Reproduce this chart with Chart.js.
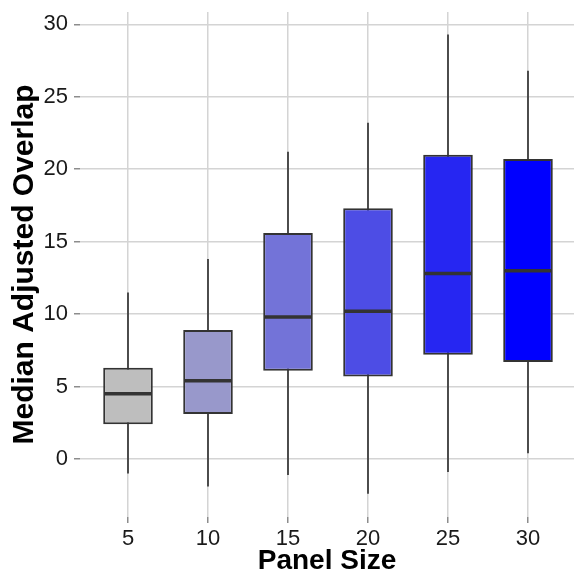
<!DOCTYPE html>
<html lang="en">
<head>
    <meta charset="UTF-8">
    <title>Median Adjusted Overlap by Panel Size</title>
    <script src="https://cdn.jsdelivr.net/npm/chart.js"></script>
    <style>
        html, body { margin: 0; padding: 0; background: #fff; }
        #wrap { width: 574px; height: 575px; }
    </style>
</head>
<body>
    <div id="wrap"><canvas id="boxChart"></canvas></div>

    <script>
        // Panel sizes along the x axis
        const panelSizes = ['5', '10', '15', '20', '25', '30'];
        // Box plot stats for each panel size
        const whiskerLow = [-1.0, -1.9, -1.1, -2.4, -0.9, 0.4];
        const q1 = [2.4, 3.1, 6.1, 5.7, 7.2, 6.7];
        const median = [4.5, 5.4, 9.8, 10.2, 12.8, 13.0];
        const q3 = [6.3, 8.9, 15.6, 17.3, 21.0, 20.7];
        const whiskerHigh = [11.5, 13.8, 21.2, 23.2, 29.3, 26.8];
        // y axis tick labels
        const yTicks = [0, 5, 10, 15, 20, 25, 30];

        const boxColors = ['#bebebe', '#9898cb', '#7373d8', '#4d4de5', '#2626f2', '#0000ff'];
        const fontFamily = '"Liberation Sans", Arial, Helvetica, sans-serif';
        const gridColor = '#d4d4d4';
        const tickColor = '#8c8c8c';

        // whiskers go behind the boxes, medians on top
        const boxParts = {
            id: 'boxParts',
            beforeDatasetsDraw(chart) {
                const { ctx, scales: { y } } = chart;
                const bars = chart.getDatasetMeta(0).data;
                ctx.save();
                ctx.strokeStyle = '#333333';
                ctx.lineWidth = 1.7;
                bars.forEach((bar, i) => {
                    const { x } = bar.getProps(['x'], true);
                    ctx.beginPath();
                    ctx.moveTo(x, y.getPixelForValue(whiskerLow[i]));
                    ctx.lineTo(x, y.getPixelForValue(whiskerHigh[i]));
                    ctx.stroke();
                });
                ctx.restore();
            },
            afterDatasetsDraw(chart) {
                const { ctx, scales: { y } } = chart;
                const bars = chart.getDatasetMeta(0).data;
                ctx.save();
                ctx.strokeStyle = '#333333';
                ctx.lineWidth = 3.5;
                bars.forEach((bar, i) => {
                    const { x, width } = bar.getProps(['x', 'width'], true);
                    const py = y.getPixelForValue(median[i]);
                    ctx.beginPath();
                    ctx.moveTo(x - width / 2 + 1, py);
                    ctx.lineTo(x + width / 2 - 1, py);
                    ctx.stroke();
                });
                ctx.restore();
            }
        };

        const ctx = document.getElementById('boxChart').getContext('2d');
        const boxChart = new Chart(ctx, {
            type: 'bar',
            data: {
                datasets: [{
                    data: panelSizes.map((s, i) => ({ x: i + 1, y: [q1[i], q3[i]] })),
                    backgroundColor: boxColors,
                    borderColor: '#333333',
                    borderWidth: 2,
                    borderSkipped: false,
                    categoryPercentage: 1,
                    barPercentage: 0.62
                }]
            },
            options: {
                responsive: true,
                maintainAspectRatio: false,
                animation: false,
                layout: { padding: { top: 12, right: 0, bottom: 0, left: 0 } },
                plugins: {
                    legend: { display: false },
                    tooltip: { enabled: false }
                },
                scales: {
                    x: {
                        type: 'linear',
                        bounds: 'data',
                        offset: false,
                        min: 0.4,
                        max: 6.575,
                        afterBuildTicks: (scale) => {
                            scale.ticks = panelSizes.map((s, i) => ({ value: i + 1 }));
                        },
                        afterFit: (scale) => { scale.height = 58; },
                        ticks: {
                            callback: (value, index) => panelSizes[index],
                            font: { family: fontFamily, size: 22 },
                            color: '#1a1a1a',
                            padding: 3,
                            maxRotation: 0,
                            autoSkip: false
                        },
                        grid: { offset: false, color: gridColor, lineWidth: 1.5, tickLength: 6, tickColor: tickColor, tickWidth: 1.5 },
                        border: { display: false },
                        title: {
                            display: true,
                            text: 'Panel Size',
                            font: { family: fontFamily, size: 28, weight: 'bold', lineHeight: 1.0 },
                            color: '#000',
                            padding: { top: 0, bottom: 0 }
                        }
                    },
                    y: {
                        type: 'linear',
                        bounds: 'data',
                        min: -4.0,
                        max: 30.85,
                        afterBuildTicks: (scale) => {
                            scale.ticks = yTicks.map(v => ({ value: v }));
                        },
                        afterFit: (scale) => {
                            scale.width = 80;
                            scale.paddingTop = 0;
                            scale.paddingBottom = 0;
                        },
                        ticks: {
                            font: { family: fontFamily, size: 22 },
                            color: '#1a1a1a',
                            padding: 6
                        },
                        grid: { color: gridColor, lineWidth: 1.5, tickLength: 6, tickColor: tickColor, tickWidth: 1.5 },
                        border: { display: false },
                        title: {
                            display: true,
                            text: 'Median Adjusted Overlap',
                            font: { family: fontFamily, size: 30, weight: 'bold' },
                            color: '#000',
                            padding: { top: 7, bottom: 0 }
                        }
                    }
                }
            },
            plugins: [boxParts]
        });
    </script>
</body>
</html>
